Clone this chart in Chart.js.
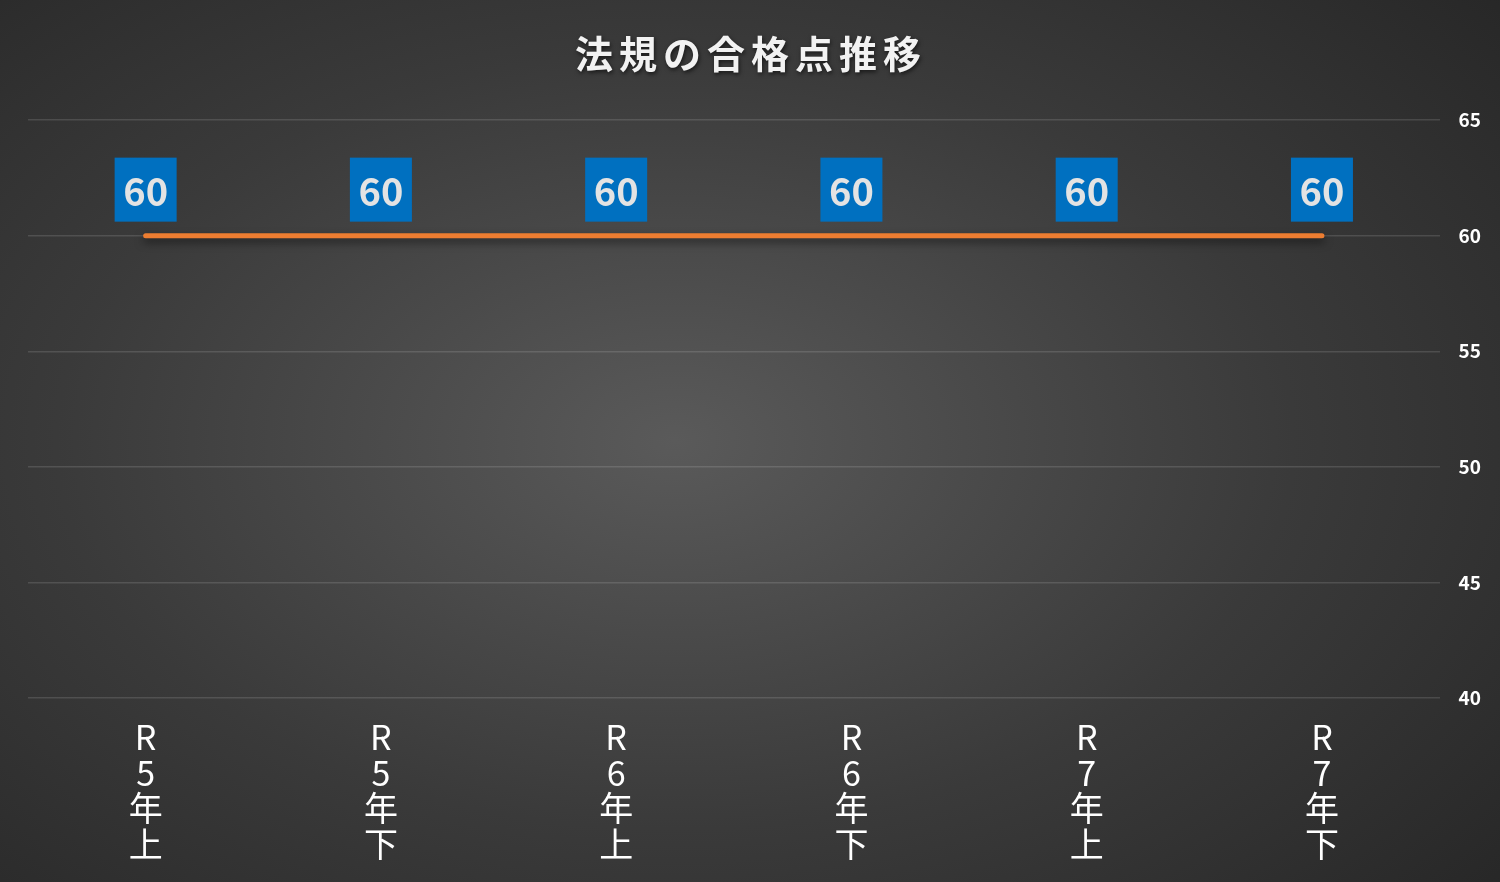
<!DOCTYPE html>
<html lang="ja">
<head>
<meta charset="utf-8">
<title>法規の合格点推移</title>
<script src="https://cdn.jsdelivr.net/npm/chart.js@4.4.1/dist/chart.umd.min.js"></script>
<style>
  html, body { margin: 0; padding: 0; }
  body {
    width: 1500px; height: 882px; overflow: hidden;
    background: radial-gradient(ellipse 75% 80% at 45% 50%, #5a5a5a 0%, #3a3a3a 55%, #262626 100%);
  }
  #wrap { position: relative; width: 1500px; height: 882px; }
</style>
</head>
<body>
<div id="wrap"><canvas id="chart"></canvas></div>
<script>
const chartTitle = '法規の合格点推移';
const categories = [
  ['R', '5', '年', '上'],
  ['R', '5', '年', '下'],
  ['R', '6', '年', '上'],
  ['R', '6', '年', '下'],
  ['R', '7', '年', '上'],
  ['R', '7', '年', '下']
];
const passScores = [60, 60, 60, 60, 60, 60];
const yMin = 40, yMax = 65, yStep = 5;

const jpFont = '"Noto Sans CJK JP", "Noto Sans", sans-serif';

// タイトル（字間と影つき）
const titlePlugin = {
  id: 'spacedTitle',
  afterDraw(chart) {
    const ctx = chart.ctx;
    ctx.save();
    ctx.font = 'bold 38px ' + jpFont;
    ctx.letterSpacing = '6px';
    ctx.textAlign = 'center';
    ctx.textBaseline = 'middle';
    ctx.shadowColor = 'rgba(0,0,0,0.6)';
    ctx.shadowBlur = 4;
    ctx.shadowOffsetX = 1;
    ctx.shadowOffsetY = 2;
    ctx.fillStyle = '#f2f2f2';
    ctx.fillText(chartTitle, 751, 54);
    ctx.restore();
  }
};

// 線の影
const lineShadow = {
  id: 'lineShadow',
  beforeDatasetDraw(chart) {
    const ctx = chart.ctx;
    ctx.save();
    ctx.shadowColor = 'rgba(0,0,0,0.55)';
    ctx.shadowBlur = 8;
    ctx.shadowOffsetY = 4;
  },
  afterDatasetDraw(chart) {
    chart.ctx.restore();
  }
};

// 値ラベル（青い箱）
const valueLabels = {
  id: 'valueLabels',
  afterDatasetsDraw(chart) {
    const ctx = chart.ctx;
    const meta = chart.getDatasetMeta(0);
    ctx.save();
    ctx.font = 'bold 38px ' + jpFont;
    ctx.textAlign = 'center';
    ctx.textBaseline = 'middle';
    meta.data.forEach((pt, i) => {
      const cx = pt.x, cy = pt.y - 46;
      ctx.fillStyle = '#0070C0';
      ctx.fillRect(cx - 31, cy - 32, 62, 64);
      ctx.fillStyle = '#e3e3e3';
      ctx.fillText(String(chart.data.datasets[0].data[i]), cx, cy + 2);
    });
    ctx.restore();
  }
};

new Chart(document.getElementById('chart'), {
  type: 'line',
  data: {
    labels: categories,
    datasets: [{
      label: '合格点',
      data: passScores,
      borderColor: '#ED7D31',
      borderWidth: 5,
      borderCapStyle: 'round',
      pointRadius: 0,
      pointHoverRadius: 0,
      tension: 0
    }]
  },
  options: {
    responsive: true,
    maintainAspectRatio: false,
    animation: false,
    layout: { padding: { top: 120, left: 28, right: 0, bottom: 7 } },
    plugins: {
      legend: { display: false },
      title: { display: false },
      tooltip: { enabled: false }
    },
    scales: {
      x: {
        offset: true,
        grid: { display: false },
        border: { display: false },
        ticks: {
          color: '#ffffff',
          padding: 13,
          maxRotation: 0,
          autoSkip: false,
          font: { family: jpFont, size: 34, weight: 'normal', lineHeight: 1.05 }
        }
      },
      y: {
        position: 'right',
        min: yMin,
        max: yMax,
        grid: { color: 'rgba(255,255,255,0.13)', lineWidth: 1.5, drawTicks: false },
        border: { display: false },
        ticks: {
          stepSize: yStep,
          color: '#ffffff',
          padding: 19,
          font: { family: jpFont, size: 19, weight: 'bold' }
        }
      }
    }
  },
  plugins: [lineShadow, valueLabels, titlePlugin]
});
</script>
</body>
</html>
